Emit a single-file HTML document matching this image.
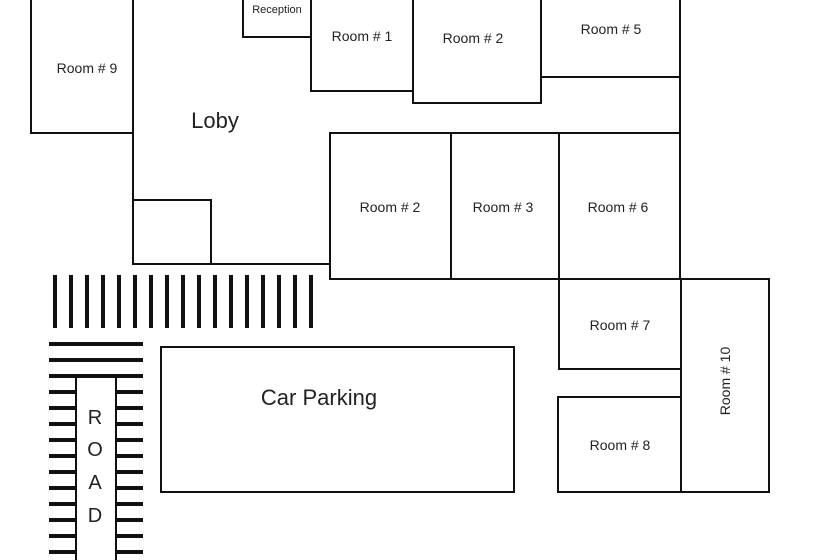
<!DOCTYPE html>
<html><head><style>
body{margin:0;background:#fff}
svg{display:block}
text{font-family:"Liberation Sans",sans-serif;fill:#222;font-stretch:condensed}
</style></head><body>
<svg width="820" height="560" viewBox="0 0 820 560" xmlns="http://www.w3.org/2000/svg">
<g fill="none" stroke="#111" stroke-width="2">
<rect x="31" y="-2" width="102" height="135"/>
<line x1="133" y1="133" x2="133" y2="264"/>
<rect x="133" y="200" width="78" height="64"/>
<line x1="133" y1="264" x2="330" y2="264"/>
<rect x="243" y="-2" width="68" height="39"/>
<rect x="311" y="-2" width="102" height="93"/>
<rect x="413" y="-2" width="128" height="105"/>
<rect x="541" y="-2" width="139" height="79"/>
<line x1="680" y1="77" x2="680" y2="133"/>
<rect x="330" y="133" width="121" height="146"/>
<rect x="451" y="133" width="108" height="146"/>
<rect x="559" y="133" width="121" height="146"/>
<rect x="559" y="279" width="122" height="90"/>
<rect x="558" y="397" width="123" height="95"/>
<rect x="681" y="279" width="88" height="213"/>
<rect x="161" y="347" width="353" height="145"/>
<line x1="76" y1="376" x2="76" y2="562"/>
<line x1="116" y1="376" x2="116" y2="562"/>
</g>
<g stroke="#111" stroke-width="4">
<path d="M55 275V328M71 275V328M87 275V328M103 275V328M119 275V328M135 275V328M151 275V328M167 275V328M183 275V328M199 275V328M215 275V328M231 275V328M247 275V328M263 275V328M279 275V328M295 275V328M311 275V328"/>
<path d="M49 344H143M49 360H143M49 376H143"/>
<path d="M49 392H75M49 408H75M49 424H75M49 440H75M49 456H75M49 472H75M49 488H75M49 504H75M49 520H75M49 536H75M49 552H75"/>
<path d="M117 392H143M117 408H143M117 424H143M117 440H143M117 456H143M117 472H143M117 488H143M117 504H143M117 520H143M117 536H143M117 552H143"/>
</g>
<g font-size="14" text-anchor="middle">
<text x="87" y="73">Room # 9</text>
<text x="277" y="13" font-size="11">Reception</text>
<text x="362" y="41">Room # 1</text>
<text x="473" y="43">Room # 2</text>
<text x="611" y="34">Room # 5</text>
<text x="215" y="128" font-size="22">Loby</text>
<text x="390" y="212">Room # 2</text>
<text x="503" y="212">Room # 3</text>
<text x="618" y="212">Room # 6</text>
<text x="620" y="330">Room # 7</text>
<text x="620" y="450">Room # 8</text>
<text x="319" y="405" font-size="22">Car Parking</text>
<text transform="translate(730,381) rotate(-90)">Room # 10</text>
<text x="95" y="424" font-size="20">R</text>
<text x="95" y="456" font-size="20">O</text>
<text x="95" y="489" font-size="20">A</text>
<text x="95" y="522" font-size="20">D</text>
</g>
</svg>
</body></html>
